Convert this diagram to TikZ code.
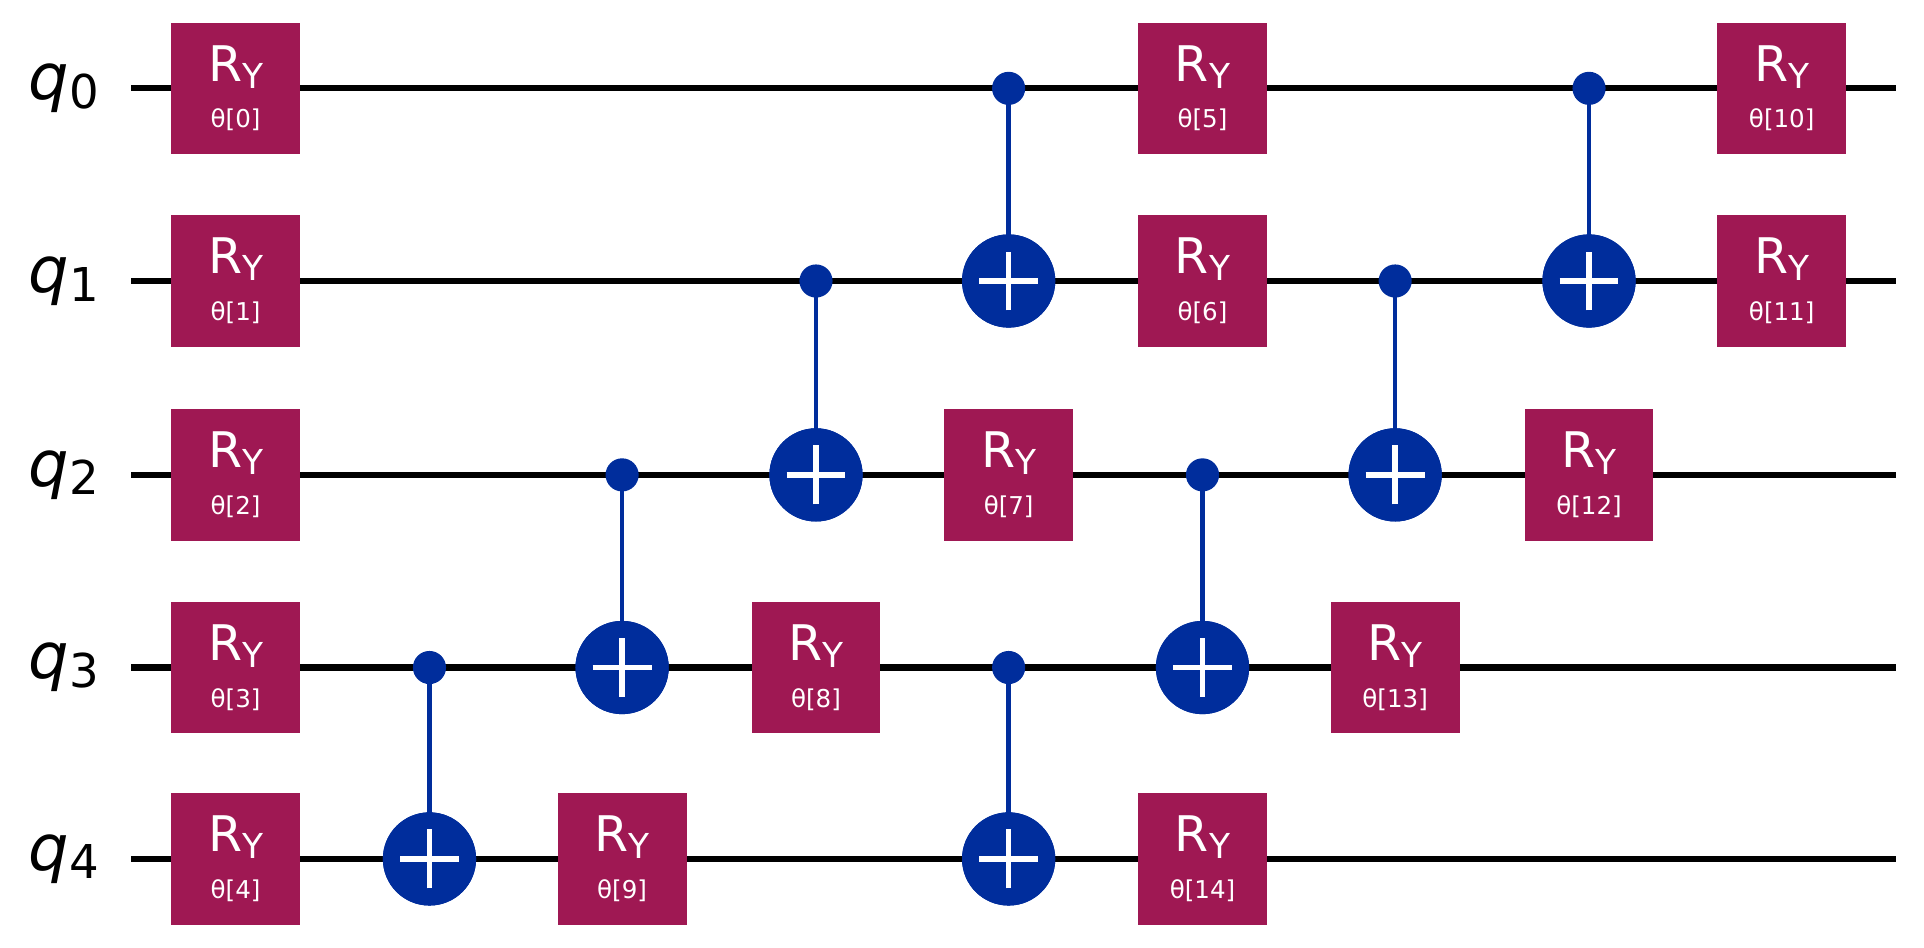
\documentclass[tikz,border=0pt]{standalone}
\usepackage{fontspec}
\setmainfont{DejaVu Sans}
\definecolor{gm}{HTML}{9F1853}
\definecolor{gb}{HTML}{002D9C}
\begin{document}
\begin{tikzpicture}[x=1pt,y=-1pt,
  wire/.style={line width=5pt,black},
  ry/.style={fill=gm,draw=none,minimum width=105pt,minimum height=107pt,inner sep=0pt,text=white,align=center,font=\fontsize{40}{44}\selectfont},
  ctl/.style={circle,fill=gb,minimum size=27pt,inner sep=0pt},
  tgt/.style={circle,fill=gb,minimum size=76pt,inner sep=0pt},
  cl/.style={line width=3.5pt,gb},
  lab/.style={font=\fontsize{52}{56}\selectfont}]
\useasboundingbox (0,0) rectangle (1568,772);
\foreach \i/\y in {0/72,1/229,2/387,3/544,4/700}{
  \coordinate (ws\i) at (107,\y);
  \coordinate (we\i) at (1545,\y);
  \draw[wire] (ws\i) -- (we\i);
  \node[lab] (l\i) at (52,\y) {\textit{q}\raisebox{-0.25ex}{\fontsize{38}{40}\selectfont\i}};
}
\newcommand{\RY}[4]{\node[ry] (#1) at (#2,#3) {R\raisebox{-0.25ex}{\fontsize{28}{30}\selectfont Y}\\[-6pt]{\fontsize{20}{22}\selectfont θ[#4]}};}
\newcommand{\CX}[5]{\node[ctl] (#1c) at (#2,#3) {}; \node[tgt] (#1t) at (#2,#4) {};
  \draw[cl] (#1c.center) -- (#1t.center);
  \node[tgt] at (#2,#4) {};
  \draw[line width=4.5pt,white] ([yshift=-24pt]#1t.center) -- ([yshift=24pt]#1t.center);
  \draw[line width=4.5pt,white] ([xshift=-24pt]#1t.center) -- ([xshift=24pt]#1t.center);}
\def\ya{72}\def\yb{229}\def\yc{387}\def\yd{544}\def\ye{700}
\RY{r0}{192}{\ya}{0}\RY{r1}{192}{\yb}{1}\RY{r2}{192}{\yc}{2}\RY{r3}{192}{\yd}{3}\RY{r4}{192}{\ye}{4}
\CX{x1}{350}{\yd}{\ye}{}
\CX{x2}{507}{\yc}{\yd}{}
\RY{r9}{507}{\ye}{9}
\CX{x3}{665}{\yb}{\yc}{}
\RY{r8}{665}{\yd}{8}
\CX{x4}{822}{\ya}{\yb}{}
\RY{r7}{822}{\yc}{7}
\CX{x5}{822}{\yd}{\ye}{}
\RY{r5}{980}{\ya}{5}\RY{r6}{980}{\yb}{6}
\CX{x6}{980}{\yc}{\yd}{}
\RY{r14}{980}{\ye}{14}
\CX{x7}{1137}{\yb}{\yc}{}
\RY{r13}{1137}{\yd}{13}
\CX{x8}{1295}{\ya}{\yb}{}
\RY{r12}{1295}{\yc}{12}
\RY{r10}{1452}{\ya}{10}\RY{r11}{1452}{\yb}{11}
\end{tikzpicture}
\end{document}
